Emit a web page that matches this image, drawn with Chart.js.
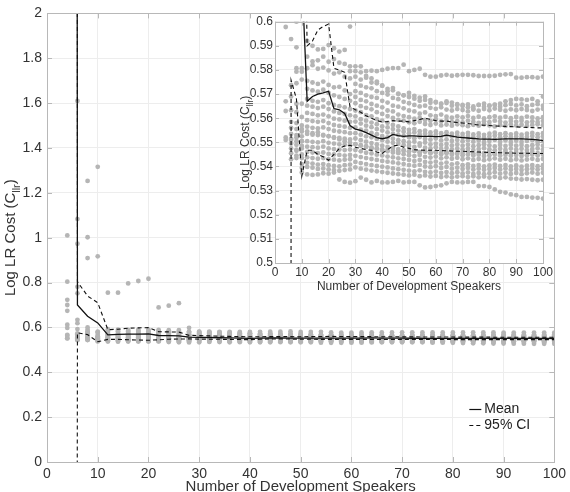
<!DOCTYPE html>
<html>
<head>
<meta charset="utf-8">
<script src="https://cdn.jsdelivr.net/npm/chart.js@4.4.1/dist/chart.umd.min.js"></script>
<style>
  body { margin: 0; background: #fff; }
  #wrap { position: relative; width: 570px; height: 492px; overflow: hidden; }
  #mainChart { position: absolute; left: 0; top: 0; }
  #insetChart { position: absolute; left: 230px; top: 12px; }
</style>
</head>
<body>
<div id="wrap">
  <canvas id="mainChart" width="570" height="492"></canvas>
  <canvas id="insetChart" width="330" height="290"></canvas>
</div>
<script>
// number of development speakers
const speakers = [4, 6, 8, 10, 12, 14, 16, 18, 20, 22, 24, 26, 28, 30, 32, 34, 36, 38, 40, 42,
    44, 46, 48, 50, 52, 54, 56, 58, 60, 62, 64, 66, 68, 70, 72, 74, 76, 78, 80, 82,
    84, 86, 88, 90, 92, 94, 96, 98, 100];

// Cllr of each replication
const run01 = [2.6, 1.61, 1.253, 1.316,
    0.755, 0.755, 0.796, 0.807, 0.817, 0.689, 0.697, 0.708, 0.598,
    0.5815, 0.5815, 0.5795, 0.5797, 0.5795, 0.580, 0.5805, 0.5808, 0.5808, 0.5822,
    0.5795, 0.580, 0.5805, 0.578, 0.5772, 0.5772, 0.5777, 0.578, 0.5776, 0.5778,
    0.578, 0.578, 0.5778, 0.5775, 0.5775, 0.5775, 0.5776, 0.578, 0.5782, 0.5783,
    0.5768, 0.5768, 0.577, 0.577, 0.5768, 0.5772];
const run02 = [3.1, 1.083, 1.002, 0.917,
    0.592, 0.590, 0.5885, 0.5887, 0.5903, 0.589, 0.5876, 0.5883, 0.5815,
    0.5795, 0.579, 0.5775, 0.5765, 0.5745, 0.5735, 0.5712, 0.5725, 0.570, 0.5695,
    0.5705, 0.5693, 0.5685, 0.569, 0.5675, 0.5665, 0.566, 0.567, 0.5665, 0.5655,
    0.5655, 0.5645, 0.564, 0.5655, 0.5648, 0.5652, 0.5655, 0.566, 0.567, 0.5675,
    0.568, 0.5678, 0.5676, 0.568, 0.567, 0.569];
const run03 = [1.01, 0.973, 0.909, 0.5807,
    0.5855, 0.5835, 0.584, 0.5855, 0.5834, 0.5845, 0.583, 0.5825, 0.5795,
    0.5772, 0.5760, 0.5768, 0.5748, 0.5752, 0.5735, 0.5722, 0.5716, 0.5702, 0.5695,
    0.5688, 0.5681, 0.5672, 0.5676, 0.5664, 0.5668, 0.5659, 0.5663, 0.5652, 0.5658,
    0.5651, 0.5657, 0.5649, 0.5655, 0.5660, 0.5652, 0.5656, 0.5648, 0.5654, 0.5659,
    0.5653, 0.5657, 0.5650, 0.5655, 0.5658, 0.5652];
const run04 = [0.804, 0.781, 0.600, 0.5793,
    0.5807, 0.582, 0.5805, 0.581, 0.5798, 0.5785, 0.579, 0.5772, 0.5765,
    0.5742, 0.5735, 0.5728, 0.5724, 0.5712, 0.5705, 0.5698, 0.5684, 0.5679, 0.5668,
    0.5662, 0.5655, 0.5649, 0.5652, 0.5643, 0.5639, 0.5645, 0.5636, 0.5632, 0.5638,
    0.5634, 0.5628, 0.5636, 0.5631, 0.5638, 0.5633, 0.5640, 0.5635, 0.5631, 0.5637,
    0.5633, 0.5638, 0.5634, 0.5630, 0.5636, 0.5639];
const run05 = [0.723, 0.752, 0.5894, 0.576,
    0.5755, 0.5748, 0.5742, 0.5752, 0.5738, 0.5728, 0.573, 0.5715, 0.570,
    0.5712, 0.5705, 0.5695, 0.5688, 0.5684, 0.5672, 0.5665, 0.5652, 0.5648, 0.5641,
    0.5632, 0.5628, 0.5619, 0.5624, 0.5612, 0.5609, 0.5615, 0.5606, 0.5602, 0.5608,
    0.5603, 0.5609, 0.5601, 0.5606, 0.5599, 0.5604, 0.5608, 0.5602, 0.5606, 0.5600,
    0.5605, 0.5601, 0.5607, 0.5603, 0.5599, 0.5604];
const run06 = [0.700, 0.634, 0.5807, 0.566,
    0.5722, 0.5715, 0.571, 0.5718, 0.5705, 0.5695, 0.5688, 0.568, 0.5672,
    0.5688, 0.5676, 0.5670, 0.5659, 0.5652, 0.5645, 0.5632, 0.5628, 0.5615, 0.5609,
    0.5604, 0.5598, 0.5601, 0.5593, 0.5589, 0.5595, 0.5587, 0.5591, 0.5584, 0.5588,
    0.5583, 0.5589, 0.5585, 0.5581, 0.5587, 0.5584, 0.5590, 0.5586, 0.5582, 0.5588,
    0.5585, 0.5589, 0.5583, 0.5587, 0.5584, 0.5588];
const run07 = [0.674, 0.619, 0.5793, 0.5605,
    0.568, 0.5672, 0.5668, 0.5675, 0.5662, 0.5655, 0.565, 0.5645, 0.5638,
    0.5662, 0.5650, 0.5643, 0.5637, 0.5625, 0.5618, 0.5609, 0.5601, 0.5593, 0.5589,
    0.5583, 0.5579, 0.5585, 0.5576, 0.5572, 0.5578, 0.5570, 0.5574, 0.5569, 0.5575,
    0.5571, 0.5567, 0.5573, 0.5569, 0.5575, 0.5570, 0.5566, 0.5572, 0.5568, 0.5574,
    0.5570, 0.5573, 0.5568, 0.5572, 0.5575, 0.5571];
const run08 = [0.612, 0.5928, 0.5745, 0.557,
    0.5652, 0.5648, 0.5642, 0.5648, 0.5638, 0.5628, 0.5622, 0.5618, 0.5612,
    0.5632, 0.5625, 0.5613, 0.5608, 0.5596, 0.5590, 0.5581, 0.5572, 0.5566, 0.5558,
    0.5552, 0.5555, 0.5546, 0.5549, 0.5541, 0.5545, 0.5538, 0.5542, 0.5536, 0.5540,
    0.5535, 0.5539, 0.5533, 0.5537, 0.5531, 0.5536, 0.5540, 0.5534, 0.5538, 0.5533,
    0.5537, 0.5532, 0.5536, 0.5539, 0.5534, 0.5538];
const run09 = [0.5978, 0.5737, 0.566, 0.5545,
    0.5622, 0.5618, 0.5612, 0.5615, 0.5608, 0.5598, 0.5595, 0.559, 0.5585,
    0.5608, 0.5596, 0.5590, 0.5582, 0.5575, 0.5566, 0.5562, 0.5555, 0.5549, 0.5544,
    0.5538, 0.5541, 0.5533, 0.5536, 0.5529, 0.5532, 0.5526, 0.5530, 0.5524, 0.5528,
    0.5522, 0.5526, 0.5520, 0.5524, 0.5519, 0.5523, 0.5527, 0.5521, 0.5525, 0.5520,
    0.5524, 0.5519, 0.5523, 0.5526, 0.5521, 0.5525];
const run10 = [0.567, 0.569, 0.5625, 0.5505,
    0.5592, 0.5588, 0.5585, 0.5588, 0.558, 0.5572, 0.5568, 0.5565, 0.556,
    0.5586, 0.5578, 0.5569, 0.5563, 0.5555, 0.5549, 0.5541, 0.5536, 0.5530, 0.5526,
    0.5521, 0.5517, 0.5522, 0.5514, 0.5511, 0.5516, 0.5508, 0.5512, 0.5506, 0.5510,
    0.5505, 0.5509, 0.5503, 0.5507, 0.5502, 0.5506, 0.5510, 0.5504, 0.5508, 0.5503,
    0.5507, 0.5502, 0.5506, 0.5509, 0.5504, 0.5508];
const run11 = [0.563, 0.5633, 0.558, 0.545,
    0.5565, 0.556, 0.5558, 0.5562, 0.5555, 0.5548, 0.5545, 0.5542, 0.5538,
    0.5562, 0.5553, 0.5548, 0.5539, 0.5534, 0.5526, 0.5521, 0.5515, 0.5509, 0.5505,
    0.5500, 0.5503, 0.5496, 0.5499, 0.5492, 0.5495, 0.5489, 0.5493, 0.5487, 0.5491,
    0.5486, 0.5490, 0.5484, 0.5488, 0.5492, 0.5487, 0.5483, 0.5489, 0.5485, 0.5490,
    0.5486, 0.5489, 0.5484, 0.5488, 0.5491, 0.5486];
const run12 = [0.552, 0.556, 0.552, 0.541,
    0.5535, 0.5532, 0.553, 0.5528, 0.5525, 0.552, 0.5518, 0.5515, 0.5512,
    0.5538, 0.5532, 0.5525, 0.5521, 0.5514, 0.5509, 0.5503, 0.5498, 0.5494, 0.5489,
    0.5485, 0.5481, 0.5486, 0.5478, 0.5475, 0.5480, 0.5473, 0.5477, 0.5471, 0.5475,
    0.5470, 0.5474, 0.5468, 0.5472, 0.5476, 0.5471, 0.5467, 0.5473, 0.5469, 0.5474,
    0.5470, 0.5473, 0.5468, 0.5472, 0.5475, 0.5470];
const run13 = [0.551, 0.551, 0.547, 0.5375,
    0.5505, 0.5502, 0.550, 0.5505, 0.5498, 0.5495, 0.5492, 0.549, 0.5488,
    0.5516, 0.5509, 0.5503, 0.5497, 0.5492, 0.5486, 0.5481, 0.5477, 0.5472, 0.5468,
    0.5463, 0.5466, 0.5459, 0.5462, 0.5455, 0.5458, 0.5451, 0.5455, 0.5449, 0.5452,
    0.5447, 0.5451, 0.5445, 0.5449, 0.5443, 0.5447, 0.5451, 0.5445, 0.5449, 0.5444,
    0.5448, 0.5443, 0.5447, 0.5450, 0.5445, 0.5449];
const run14 = [2.4, 0.5455, 0.5445, 0.5505,
    0.5482, 0.548, 0.5478, 0.5482, 0.5475, 0.5472, 0.547, 0.5468, 0.547,
    0.5492, 0.5486, 0.5481, 0.5475, 0.5472, 0.5466, 0.5463, 0.5458, 0.5455, 0.5451,
    0.5447, 0.5443, 0.5448, 0.5440, 0.5437, 0.5441, 0.5434, 0.5438, 0.5432, 0.5436,
    0.5430, 0.5434, 0.5427, 0.5431, 0.5426, 0.5430, 0.5434, 0.5428, 0.5432, 0.5426,
    0.5430, 0.5425, 0.5429, 0.5432, 0.5427, 0.5431];
const run15 = [4.2, 0.543, 0.549, 0.5555,
    0.546, 0.5458, 0.5455, 0.5458, 0.5452, 0.545, 0.5448, 0.5445, 0.5448,
    0.5468, 0.5463, 0.5457, 0.5454, 0.5449, 0.5446, 0.5441, 0.5438, 0.5434, 0.5431,
    0.5427, 0.5423, 0.5427, 0.5419, 0.5416, 0.5420, 0.5412, 0.5416, 0.5409, 0.5413,
    0.5405, 0.5409, 0.5402, 0.5406, 0.5400, 0.5404, 0.5408, 0.5402, 0.5406, 0.5400,
    0.5404, 0.5399, 0.5403, 0.5406, 0.5401, 0.5405];
const run16 = [2.9, 0.5495, 0.5555, 0.5485,
    0.5438, 0.5435, 0.5432, 0.5435, 0.543, 0.5428, 0.5425, 0.5428, 0.543,
    0.5444, 0.5439, 0.5435, 0.5431, 0.5427, 0.5423, 0.5420, 0.5417, 0.5413, 0.5410,
    0.5406, 0.5403, 0.5407, 0.5400, 0.5397, 0.5401, 0.5394, 0.5398, 0.5391, 0.5395,
    0.5390, 0.5394, 0.5387, 0.5391, 0.5386, 0.5390, 0.5394, 0.5388, 0.5392, 0.5386,
    0.5390, 0.5385, 0.5389, 0.5392, 0.5387, 0.5391];
const run17 = [640, 0.5475, 0.553, 0.5525,
    0.5415, 0.5412, 0.5408, 0.541, 0.5405, 0.5402, 0.540, 0.5405, 0.5408,
    0.5419, 0.5414, 0.5410, 0.5406, 0.5402, 0.5399, 0.5396, 0.5392, 0.5389, 0.5386,
    0.5383, 0.5380, 0.5384, 0.5378, 0.5375, 0.5379, 0.5373, 0.5377, 0.5372, 0.5376,
    0.5371, 0.5375, 0.5369, 0.5373, 0.5368, 0.5372, 0.5376, 0.5370, 0.5374, 0.5369,
    0.5373, 0.5368, 0.5372, 0.5375, 0.5370, 0.5374];
const run18 = [3.6, 0.5535, 0.5505, 0.5475,
    0.5398, 0.5395, 0.539, 0.5392, 0.5388, 0.5385, 0.5382, 0.5385, 0.5388,
    0.5396, 0.5391, 0.5387, 0.5383, 0.5380, 0.5377, 0.5374, 0.5371, 0.5368, 0.5366,
    0.5363, 0.5366, 0.5360, 0.5363, 0.5358, 0.5361, 0.5356, 0.5359, 0.5355, 0.5358,
    0.5360, 0.5356, 0.5359, 0.5355, 0.5358, 0.5354, 0.5357, 0.5352, 0.5355, 0.5350,
    0.5349, 0.5346, 0.5348, 0.5345, 0.5343, 0.5345];
const run19 = [5.1, 0.5585, 0.5465, 0.5435,
    0.5545, 0.5538, 0.5542, 0.5531, 0.5526, 0.5519, 0.5512, 0.5505, 0.5498,
    0.5493, 0.5488, 0.5484, 0.5479, 0.5476, 0.5471, 0.5468, 0.5466, 0.5462, 0.5465,
    0.5461, 0.5464, 0.5459, 0.5462, 0.5457, 0.5460, 0.5456, 0.5459, 0.5455, 0.5458,
    0.5456, 0.5460, 0.5454, 0.5458, 0.5455, 0.5459, 0.5453, 0.5457, 0.5461, 0.5455,
    0.5458, 0.5454, 0.5457, 0.5460, 0.5455, 0.5459];
const run20 = [510, 0.5515, 0.5435, 0.5395,
    0.5367, 0.5365, 0.5367, 0.5372, 0.537, 0.5375, 0.5346, 0.5336, 0.5333,
    0.5339, 0.5354, 0.5345, 0.5334, 0.534, 0.5334, 0.5334, 0.5336, 0.534, 0.5334,
    0.5336, 0.5336, 0.5322, 0.5313, 0.5315, 0.5319, 0.5322, 0.533, 0.5336, 0.5334,
    0.5334, 0.5336, 0.5336, 0.5319, 0.5319, 0.5315, 0.5305, 0.5295, 0.5292, 0.5284,
    0.5281, 0.5274, 0.5274, 0.5271, 0.527, 0.5267];

const meanCost = [59.1, 0.700, 0.650, 0.620,
    0.567, 0.569, 0.570, 0.5705, 0.5712, 0.564, 0.5635, 0.562, 0.557,
    0.5555, 0.555, 0.554, 0.553, 0.552, 0.5515, 0.552, 0.5533, 0.5528, 0.5525,
    0.5527, 0.5527, 0.5525, 0.5525, 0.5525, 0.5524, 0.5525, 0.553, 0.5526, 0.5522,
    0.552, 0.5518, 0.5516, 0.5514, 0.5513, 0.5513, 0.5512, 0.5513, 0.5514, 0.5514,
    0.5514, 0.5514, 0.5513, 0.5512, 0.551, 0.5507];
const ciUpper = [150, 0.804, 0.740, 0.710,
    0.590, 0.592, 0.5966, 0.598, 0.599, 0.5807, 0.580, 0.579, 0.5647,
    0.5635, 0.5625, 0.561, 0.560, 0.559, 0.5585, 0.5586, 0.559, 0.5588, 0.5588,
    0.5585, 0.559, 0.5595, 0.560, 0.5595, 0.559, 0.5588, 0.5588, 0.5585, 0.5582,
    0.558, 0.5578, 0.5575, 0.5572, 0.5571, 0.557, 0.5568, 0.5567, 0.5566, 0.5565,
    0.5564, 0.5563, 0.5562, 0.5561, 0.556, 0.556];
const ciLower = [-32, 0.5758, 0.568, 0.536,
    0.5467, 0.5467, 0.545, 0.544, 0.5426, 0.545, 0.5475, 0.5485, 0.5488,
    0.548, 0.5475, 0.547, 0.5467, 0.546, 0.5454, 0.547, 0.5485, 0.5488, 0.548,
    0.5475, 0.547, 0.5468, 0.5467, 0.5467, 0.5467, 0.5466, 0.5465, 0.5464, 0.5463,
    0.5463, 0.5462, 0.5461, 0.546, 0.5459, 0.5458, 0.5458, 0.5457, 0.5456, 0.5456,
    0.5455, 0.5455, 0.5455, 0.5454, 0.5454, 0.5454];

const runs = [run01, run02, run03, run04, run05, run06, run07, run08, run09, run10,
    run11, run12, run13, run14, run15, run16, run17, run18, run19, run20];

const FONT = "'Liberation Sans', Arial, sans-serif";
Chart.defaults.font.family = FONT;
Chart.defaults.color = '#333';

function points(vals) {
    return speakers.map((x, i) => ({x: x, y: vals[i]}));
}

function makeDatasets() {
    const sets = [
        {label: 'Mean', data: points(meanCost), showLine: true, borderColor: '#111',
         borderWidth: 1.3, pointRadius: 0, order: 0},
        {label: '95% CI', data: points(ciUpper), showLine: true, borderColor: '#111',
         borderWidth: 1.1, borderDash: [4, 3], pointRadius: 0, order: 0},
        {label: '95% CI', data: points(ciLower), showLine: true, borderColor: '#111',
         borderWidth: 1.1, borderDash: [4, 3], pointRadius: 0, order: 0, hideLegend: true}
    ];
    runs.forEach(r => {
        sets.push({label: 'run', data: points(r), pointRadius: 2.4, pointBackgroundColor: '#b5b5b5',
            pointBorderWidth: 0, order: 1, hideLegend: true});
    });
    return sets;
}

// MATLAB style box with inward ticks
const boxTicks = {
    id: 'boxTicks',
    afterDatasetsDraw(chart, args, o) {
        const {ctx, chartArea: a, scales: {x, y}} = chart;
        ctx.save();
        ctx.strokeStyle = o.color;
        ctx.lineWidth = 1;
        ctx.beginPath();
        x.ticks.forEach(t => {
            const p = Math.round(x.getPixelForValue(t.value)) + 0.5;
            ctx.moveTo(p, a.bottom); ctx.lineTo(p, a.bottom - o.len);
            ctx.moveTo(p, a.top); ctx.lineTo(p, a.top + o.len);
        });
        y.ticks.forEach(t => {
            const p = Math.round(y.getPixelForValue(t.value)) + 0.5;
            ctx.moveTo(a.left, p); ctx.lineTo(a.left + o.len, p);
            ctx.moveTo(a.right, p); ctx.lineTo(a.right - o.len, p);
        });
        ctx.stroke();
        ctx.strokeRect(Math.round(a.left) + 0.5, Math.round(a.top) + 0.5,
            Math.round(a.right - a.left), Math.round(a.bottom - a.top));
        ctx.restore();
    }
};

// rotated y title with subscript
const yTitle = {
    id: 'yTitle',
    afterDraw(chart, args, o) {
        const {ctx, chartArea: a} = chart;
        const big = o.size + 'px ' + FONT;
        const small = (o.size * 0.72).toFixed(1) + 'px ' + FONT;
        const parts = [[o.text, big, 0], [o.sub, small, o.size * 0.3], [')', big, 0]];
        ctx.save();
        ctx.translate(o.x, (a.top + a.bottom) / 2);
        ctx.rotate(-Math.PI / 2);
        ctx.fillStyle = '#333';
        ctx.textBaseline = 'alphabetic';
        let total = 0;
        parts.forEach(p => { ctx.font = p[1]; total += ctx.measureText(p[0]).width; });
        let pos = -total / 2;
        parts.forEach(p => {
            ctx.font = p[1];
            ctx.fillText(p[0], pos, p[2]);
            pos += ctx.measureText(p[0]).width;
        });
        ctx.restore();
    }
};

const cornerLegend = {
    id: 'cornerLegend',
    afterDraw(chart, args, o) {
        if (!o.show) return;
        const {ctx, chartArea: a} = chart;
        const items = chart.data.datasets.filter(d => d.showLine && !d.hideLegend);
        ctx.save();
        ctx.font = '14px ' + FONT;
        ctx.textBaseline = 'middle';
        items.forEach((d, i) => {
            const y = Math.round(a.bottom - 53 + i * 16) + 0.5;
            const x0 = a.right - 85;
            ctx.strokeStyle = d.borderColor;
            ctx.lineWidth = 1.2;
            ctx.setLineDash(d.borderDash || []);
            ctx.beginPath();
            ctx.moveTo(x0, y); ctx.lineTo(x0 + 12, y);
            ctx.stroke();
            ctx.fillStyle = '#222';
            ctx.fillText(d.label, x0 + 15, y);
        });
        ctx.restore();
    }
};

const insetBg = {
    id: 'insetBg',
    beforeDraw(chart) {
        const {ctx, chartArea: a} = chart;
        ctx.save();
        ctx.fillStyle = '#fff';
        ctx.fillRect(a.left, a.top, a.right - a.left, a.bottom - a.top);
        ctx.restore();
    }
};

function fmt(v) { return String(+v.toFixed(2)); }

new Chart(document.getElementById('mainChart'), {
    type: 'scatter',
    data: {datasets: makeDatasets()},
    plugins: [boxTicks, yTitle, cornerLegend],
    options: {
        responsive: false,
        animation: false,
        layout: {padding: {top: 8, right: 12, left: 0, bottom: 0}},
        plugins: {
            legend: {display: false},
            tooltip: {enabled: false},
            boxTicks: {color: '#b8b8b8', len: 5},
            yTitle: {x: 15, size: 15, text: 'Log LR Cost (C', sub: 'llr'},
            cornerLegend: {show: true}
        },
        scales: {
            x: {
                type: 'linear', min: 0, max: 100,
                ticks: {stepSize: 10, padding: 4, font: {size: 14}, maxRotation: 0},
                grid: {color: '#ededed', drawTicks: false},
                border: {display: false},
                title: {display: true, text: 'Number of Development Speakers', font: {size: 15},
                        padding: {top: 0, bottom: -4}},
                afterFit(s) { s.height = 30; }
            },
            y: {
                min: 0, max: 2,
                ticks: {stepSize: 0.2, padding: 5, font: {size: 14}, callback: fmt},
                grid: {color: '#ededed', drawTicks: false},
                border: {display: false},
                afterFit(s) { s.width = 47; }
            }
        }
    }
});

new Chart(document.getElementById('insetChart'), {
    type: 'scatter',
    data: {datasets: makeDatasets()},
    plugins: [insetBg, boxTicks, yTitle],
    options: {
        responsive: false,
        animation: false,
        layout: {padding: {top: 9.7, right: 17, left: 0, bottom: 0}},
        plugins: {
            legend: {display: false},
            tooltip: {enabled: false},
            boxTicks: {color: '#b8b8b8', len: 4},
            yTitle: {x: 19, size: 12, text: 'Log LR Cost (C', sub: 'llr'}
        },
        scales: {
            x: {
                type: 'linear', min: 0, max: 100,
                ticks: {stepSize: 10, padding: 2, font: {size: 12}, maxRotation: 0},
                grid: {color: '#ededed', drawTicks: false},
                border: {display: false},
                title: {display: true, text: 'Number of Development Speakers', font: {size: 12},
                        padding: {top: 0, bottom: 8}},
                afterFit(s) { s.height = 39; }
            },
            y: {
                min: 0.5, max: 0.6,
                ticks: {stepSize: 0.01, padding: 2, font: {size: 12}, callback: fmt},
                grid: {color: '#ededed', drawTicks: false},
                border: {display: false},
                afterFit(s) { s.width = 45; }
            }
        }
    }
});
</script>
</body>
</html>
